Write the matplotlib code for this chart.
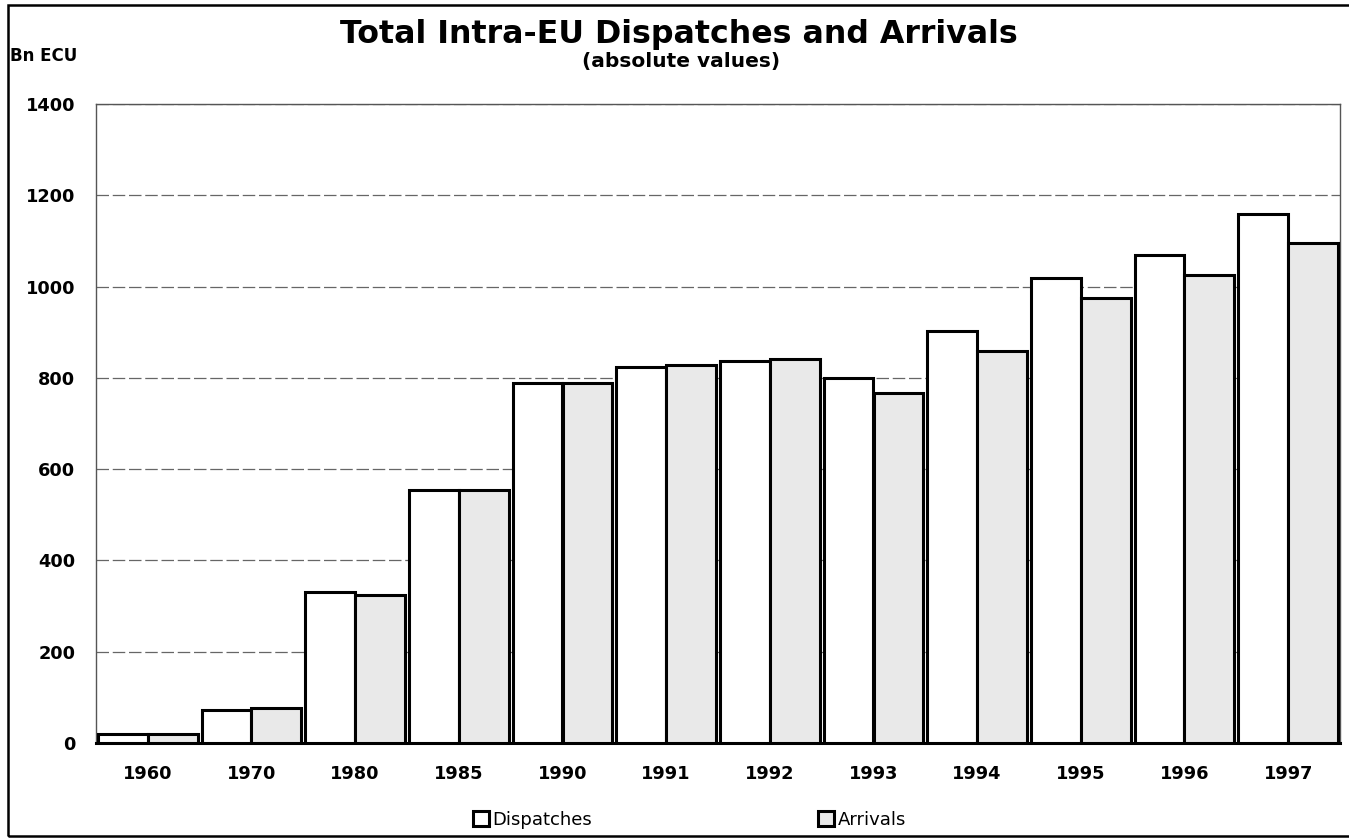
import numpy as np
import matplotlib.pyplot as plt
from matplotlib.patches import Rectangle

# data
years = ['1960', '1970', '1980', '1985', '1990', '1991', '1992',
         '1993', '1994', '1995', '1996', '1997']
dispatches = [20, 72, 331, 555, 789, 824, 837, 799, 903, 1019, 1069, 1159]
arrivals = [20, 77, 325, 555, 789, 828, 841, 767, 859, 975, 1025, 1096]
yticks = [0, 200, 400, 600, 800, 1000, 1200, 1400]

plt.rcParams['font.family'] = ['DejaVu Sans']

fig = plt.figure(figsize=(13.49, 8.39), dpi=100)
ax = fig.add_axes([96 / 1349, 1 - 743 / 839, 1244 / 1349, 639 / 839])

x = np.arange(len(years))
w = 0.48
ax.bar(x - w / 2, dispatches, w, color='white', edgecolor='black', linewidth=2.2,
       label='Dispatches', zorder=3)
ax.bar(x + w / 2, arrivals, w, color='#e9e9e9', edgecolor='black', linewidth=2.2,
       label='Arrivals', zorder=3)

ax.set_xlim(-0.5, len(years) - 0.5)
ax.set_ylim(0, 1400)
ax.set_yticks(yticks)
ax.set_yticklabels([str(v) for v in yticks], fontsize=12.8, fontweight='bold')
ax.set_xticks(x)
ax.set_xticklabels(years, fontsize=12.8, fontweight='bold')
ax.tick_params(axis='y', length=0, pad=15)
ax.tick_params(axis='x', length=0, pad=16)

ax.yaxis.grid(True, color='#666666', linestyle=(0, (10, 3)), linewidth=0.9, zorder=0)
ax.set_axisbelow(True)

for s in ['left', 'top', 'right']:
    ax.spines[s].set_color('#555555')
    ax.spines[s].set_linewidth(1.0)
ax.spines['bottom'].set_color('black')
ax.spines['bottom'].set_linewidth(2.2)

fig.text(679 / 1349, 1 - 35 / 839, 'Total Intra-EU Dispatches and Arrivals',
         ha='center', va='center', fontsize=22.8, fontweight='bold')
fig.text(681 / 1349, 1 - 62 / 839, '(absolute values)',
         ha='center', va='center', fontsize=14.5, fontweight='bold')
fig.text(10 / 1349, 1 - 56 / 839, 'Bn ECU', ha='left', va='center',
         fontsize=12, fontweight='bold')

fig.legend(loc='center', bbox_to_anchor=(0.511, 1 - 820 / 839), ncol=2,
           frameon=False, fontsize=13, handlelength=0.9, handleheight=0.9,
           handletextpad=0.2, columnspacing=12.5)

# outer frame round the whole chart
fig.patches.append(Rectangle((8 / 1349, 1 - 836 / 839), 1.0, 831 / 839,
                             transform=fig.transFigure, fill=False,
                             edgecolor='black', linewidth=1.8, clip_on=False))

fig.savefig('out.png', dpi=100)
